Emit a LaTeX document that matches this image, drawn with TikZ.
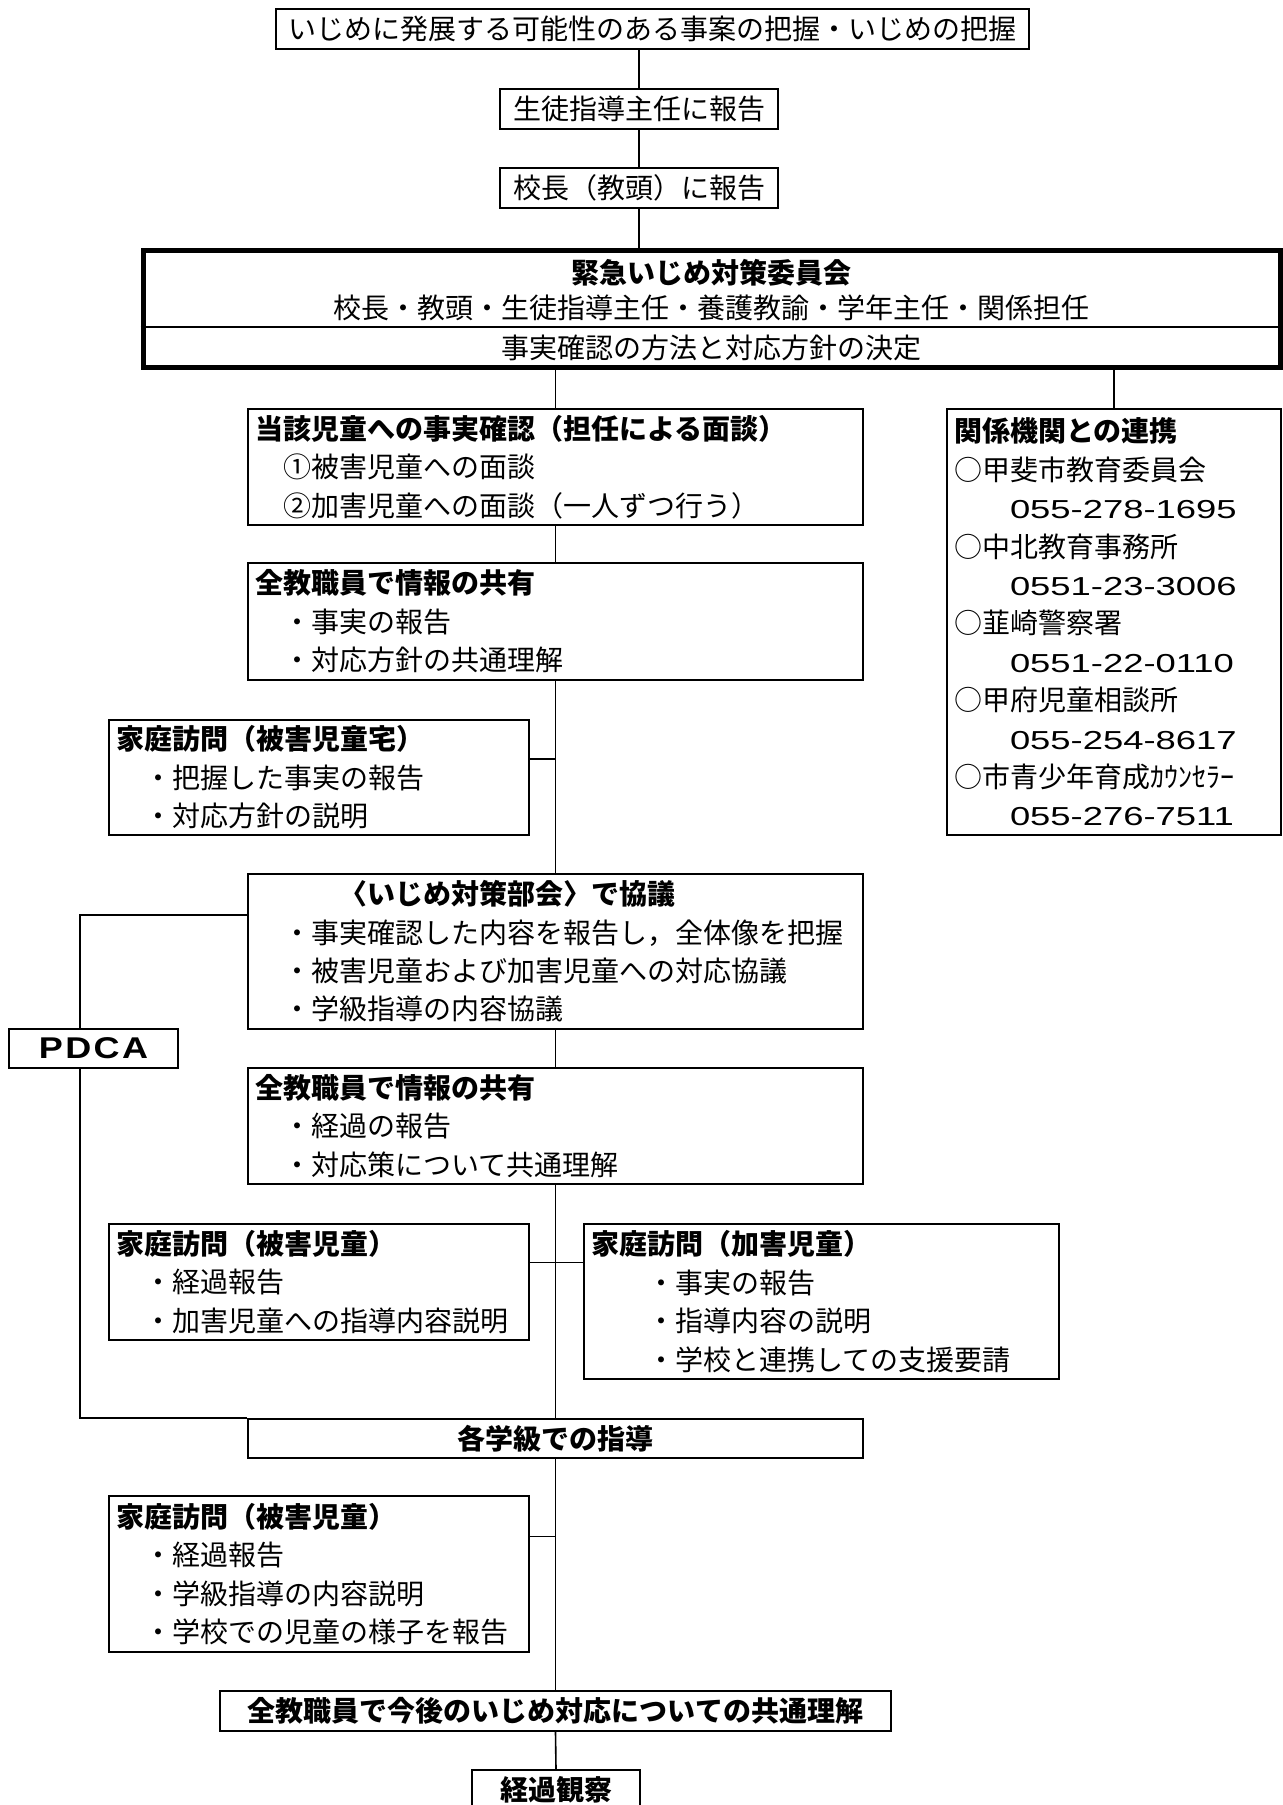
\documentclass[tikz,border=0pt]{standalone}
\usepackage{fontspec}
\setmainfont{Noto Sans CJK JP}
\newfontfamily\phone[FakeStretch=1.4]{Liberation Sans}
\newfontfamily\pdcafont[FakeStretch=1.2,LetterSpace=8]{Liberation Sans}
\newcommand{\ph}[1]{{\phone\fontsize{13}{19.2}\selectfont #1}}
\begin{document}
\begin{tikzpicture}[x=0.5pt,y=-0.5pt,
  box/.style={draw, line width=1pt, inner sep=0pt, font=\fontsize{14}{19.2}\selectfont},
  lbox/.style={box, align=left, inner xsep=3.5pt},
  cbox/.style={box, align=center},
  conn/.style={line width=0.8pt},
  txt/.style={inner sep=0pt, font=\fontsize{14}{19.2}\selectfont}]
\fill[white] (0,0) rectangle (1283,1805);
\clip (0,0) rectangle (1283,1805);

% top chain
\node[cbox, minimum width=376.5pt, minimum height=20pt] (top) at (652.5,29) {いじめに発展する可能性のある事案の把握・いじめの把握};
\node[cbox, minimum width=139pt, minimum height=20pt] (rep1) at (639,109) {生徒指導主任に報告};
\node[cbox, minimum width=139pt, minimum height=20pt] (rep2) at (639,188) {校長（教頭）に報告};

% committee
\node[draw, line width=2.5pt, inner sep=0pt, minimum width=568.5pt, minimum height=58.5pt] (com) at (711.5,308.5) {};
\draw[line width=1pt] (com.west |- 0,327) -- (com.east |- 0,327);
\node[txt, font=\fontsize{14}{19.2}\selectfont\bfseries] (comT) at (711.5,273) {緊急いじめ対策委員会};
\node[txt] (comM) at (711.5,308) {校長・教頭・生徒指導主任・養護教諭・学年主任・関係担任};
\node[txt] (comB) at (711.5,348) {事実確認の方法と対応方針の決定};

% middle column
\node[lbox, text width=300.5pt, minimum height=58pt] (toga) at (555.5,467) {\textbf{当該児童への事実確認（担任による面談）}\\　①被害児童への面談\\　②加害児童への面談（一人ずつ行う）};
\node[lbox, text width=160pt, minimum height=213pt] (kankei) at (1114,622) {\textbf{関係機関との連携}\\○甲斐市教育委員会\\　　\ph{055-278-1695}\\○中北教育事務所\\　　\ph{0551-23-3006}\\○韮崎警察署\\　　\ph{0551-22-0110}\\○甲府児童相談所\\　　\ph{055-254-8617}\\○市青少年育成ｶｳﾝｾﾗｰ\\　　\ph{055-276-7511}};
\node[lbox, text width=300.5pt, minimum height=58.5pt] (share1) at (555.5,621.5) {\textbf{全教職員で情報の共有}\\　・事実の報告\\　・対応方針の共通理解};
\node[lbox, text width=203pt, minimum height=57.5pt] (home1) at (319,777.5) {\textbf{家庭訪問（被害児童宅）}\\　・把握した事実の報告\\　・対応方針の説明};
\node[lbox, text width=300.5pt, minimum height=77.5pt] (bukai) at (555.5,951.5) {　　　\textbf{〈いじめ対策部会〉で協議}\\　・事実確認した内容を報告し，全体像を把握\\　・被害児童および加害児童への対応協議\\　・学級指導の内容協議};
\node[cbox, minimum width=84.5pt, minimum height=19.5pt, font=\pdcafont\fontsize{15}{19.2}\selectfont\bfseries] (pdca) at (93.5,1048.5) {PDCA};
\node[lbox, text width=300.5pt, minimum height=58pt] (share2) at (555.5,1126) {\textbf{全教職員で情報の共有}\\　・経過の報告\\　・対応策について共通理解};
\node[lbox, text width=203pt, minimum height=58pt] (home2) at (319,1282) {\textbf{家庭訪問（被害児童）}\\　・経過報告\\　・加害児童への指導内容説明};
\node[lbox, text width=230.5pt, minimum height=77.5pt] (home3) at (821.5,1301.5) {\textbf{家庭訪問（加害児童）}\\　　・事実の報告\\　　・指導内容の説明\\　　・学校と連携しての支援要請};
\node[cbox, minimum width=307.5pt, minimum height=19.5pt, font=\fontsize{14}{19.2}\selectfont\bfseries] (class) at (555.5,1438.5) {各学級での指導};
\node[lbox, text width=203pt, minimum height=78pt] (home4) at (319,1574) {\textbf{家庭訪問（被害児童）}\\　・経過報告\\　・学級指導の内容説明\\　・学校での児童の様子を報告};
\node[cbox, minimum width=335.5pt, minimum height=20pt, font=\fontsize{14}{19.2}\selectfont\bfseries] (future) at (555.5,1711) {全教職員で今後のいじめ対応についての共通理解};
\node[cbox, minimum width=84pt, minimum height=20pt, font=\fontsize{14}{19.2}\selectfont\bfseries] (obs) at (556,1790) {経過観察};

% connectors
\draw[conn] (top.south -| rep1.north) -- (rep1.north);
\draw[conn] (rep1.south) -- (rep2.north);
\draw[conn] (rep2.south) -- (rep2.south |- com.north);
\draw[conn] (toga.north |- com.south) -- (toga.north);
\draw[conn] (kankei.north |- com.south) -- (kankei.north);
\draw[conn] (toga.south) -- (share1.north);
\draw[conn] (share1.south) -- (bukai.north);
\coordinate (j1) at (555.5,759);
\draw[conn] (home1.east |- j1) -- (j1);
\draw[conn] (bukai.south) -- (share2.north);
\draw[conn] (share2.south) -- (class.north);
\coordinate (j2) at (555.5,1262.5);
\draw[conn] (home2.east |- j2) -- (home3.west |- j2);
\draw[conn] (class.south) -- (future.north);
\coordinate (j3) at (555.5,1536.5);
\draw[conn] (home4.east |- j3) -- (j3);
\draw[conn] (future.south) -- (obs.north);
\coordinate (p1) at (80,915);
\draw[conn] (bukai.west |- p1) -- (p1) -- (p1 |- pdca.north);
\draw[conn] (p1 |- pdca.south) -- (p1 |- class.north) -- (class.north west);
\end{tikzpicture}
\end{document}
